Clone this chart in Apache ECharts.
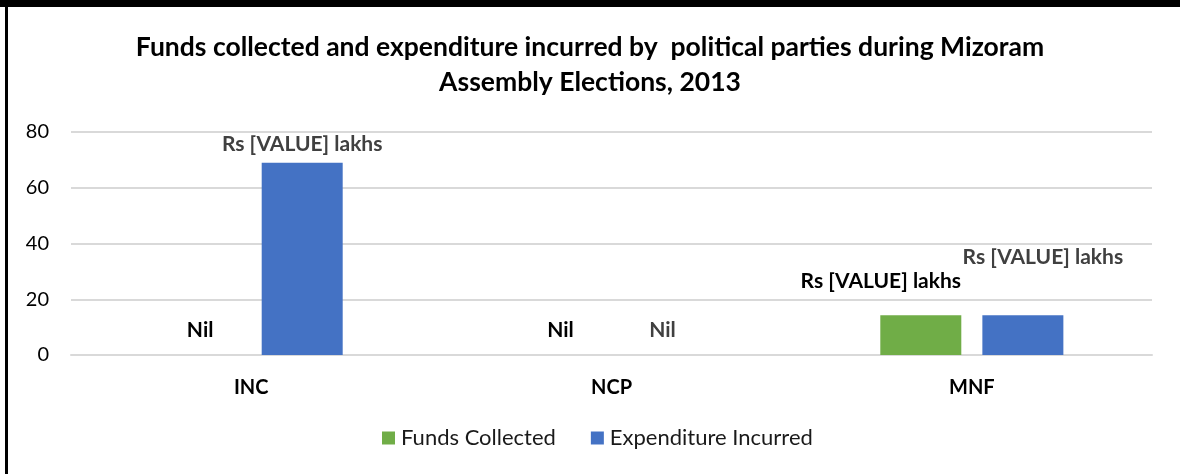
<!DOCTYPE html>
<html>
<head>
<meta charset="utf-8">
<script src="https://cdn.jsdelivr.net/npm/echarts@6/dist/echarts.min.js"></script>
<style>
  html, body { margin: 0; padding: 0; background: #fff; }
  #wrap { position: relative; width: 1180px; height: 474px; overflow: hidden; }
  #topbar { position: absolute; left: 0; top: 0; width: 1180px; height: 7px; background: #000; }
  #leftbar { position: absolute; left: 5px; top: 0; width: 3px; height: 474px; background: #000; }
  #chart { position: absolute; left: 0; top: 0; width: 1180px; height: 474px; }
</style>
</head>
<body>
<div id="wrap">
  <div id="chart"></div>
  <div id="topbar"></div>
  <div id="leftbar"></div>
</div>
<script>
const titleText = 'Funds collected and expenditure incurred by  political parties during Mizoram\nAssembly Elections, 2013';
const categories = ['INC', 'NCP', 'MNF'];
const seriesNames = ['Funds Collected', 'Expenditure Incurred'];
const fundsCollected = [0, 0, 14.3];
const expenditureIncurred = [69, 0, 14.3];
const yTicks = { min: 0, max: 80, interval: 20 };
const valueLabelText = 'Rs [VALUE] lakhs';
const nilText = 'Nil';

const FONT = 'Lato';
const GREEN = '#70ad47';
const BLUE = '#4472c4';

// per-item label styling (offsets, colours), kept separate from the values
const fundsLabelStyle = [
  { color: '#000', offset: [0, -9] },
  { color: '#000', offset: [0, -9] },
  { color: '#000', offset: [-40, -18] }
];
const expLabelStyle = [
  { color: '#404040', offset: [0, -3] },
  { color: '#404040', offset: [0, -9] },
  { color: '#404040', offset: [20, -42] }
];

function buildData(values, styles) {
  return values.map((v, i) => ({
    value: v,
    label: {
      show: true,
      position: 'top',
      distance: 5,
      offset: styles[i].offset,
      color: styles[i].color,
      fontFamily: FONT,
      fontWeight: 'bold',
      fontSize: 21,
      formatter: (p) => (p.value === 0 ? nilText : valueLabelText)
    }
  }));
}

const chart = echarts.init(document.getElementById('chart'), null, { renderer: 'canvas' });
chart.setOption({
  animation: false,
  backgroundColor: '#fff',
  title: {
    text: titleText,
    left: 'center',
    top: 25,
    padding: [5, 5, 5, 13],
    textStyle: {
      fontFamily: FONT,
      fontWeight: 'bold',
      fontSize: 26.5,
      lineHeight: 35,
      color: '#000'
    }
  },
  legend: {
    bottom: 20,
    left: 377,
    itemWidth: 13,
    itemHeight: 13,
    itemGap: 35,
    icon: 'rect',
    textStyle: { fontFamily: FONT, fontSize: 22, color: '#1a1a1a', padding: [0, 0, 0, 1] },
    data: seriesNames
  },
  grid: { left: 71, right: 28, top: 132, bottom: 119, containLabel: false },
  xAxis: {
    type: 'category',
    data: categories,
    axisLine: { show: true, lineStyle: { color: '#d9d9d9', width: 2 } },
    axisTick: { show: false },
    axisLabel: {
      margin: 23,
      fontFamily: FONT,
      fontWeight: 'bold',
      fontSize: 20,
      color: '#000'
    }
  },
  yAxis: {
    type: 'value',
    min: yTicks.min,
    max: yTicks.max,
    interval: yTicks.interval,
    axisLine: { show: false },
    axisTick: { show: false },
    splitLine: { lineStyle: { color: '#d9d9d9', width: 2 } },
    axisLabel: {
      margin: 22,
      fontFamily: FONT,
      fontSize: 20,
      color: '#000'
    }
  },
  series: [
    {
      name: seriesNames[0],
      type: 'bar',
      barWidth: 81,
      barGap: '26%',
      itemStyle: { color: GREEN },
      data: buildData(fundsCollected, fundsLabelStyle)
    },
    {
      name: seriesNames[1],
      type: 'bar',
      barWidth: 81,
      barGap: '26%',
      itemStyle: { color: BLUE },
      data: buildData(expenditureIncurred, expLabelStyle)
    }
  ]
});
</script>
</body>
</html>
